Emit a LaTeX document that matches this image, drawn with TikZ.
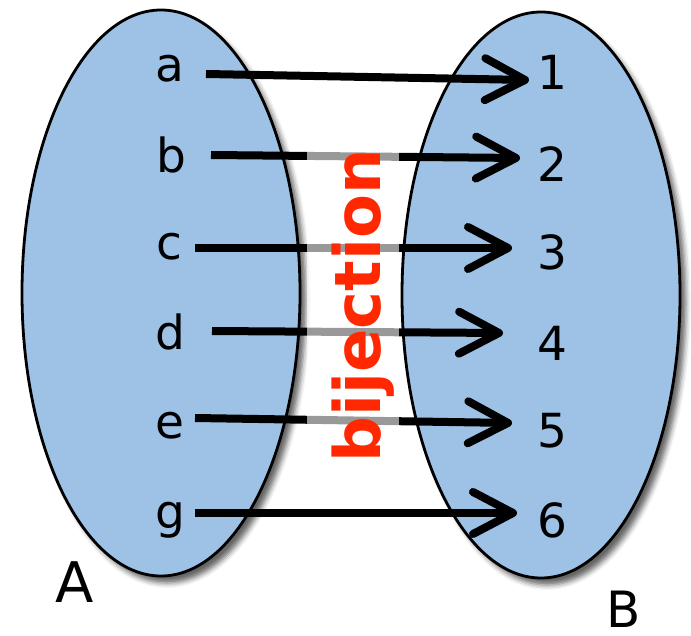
\documentclass[tikz,border=0pt]{standalone}
\usepackage{fontspec}
\setmainfont{DejaVu Sans}
\usetikzlibrary{arrows.meta,shapes.geometric,shadows.blur}

\definecolor{setblue}{RGB}{158,194,230}
\definecolor{bijred}{RGB}{255,40,0}

\tikzset{
  setshape/.style={ellipse, draw=black, line width=2.8pt, fill=setblue,
    minimum width=278pt, minimum height=566pt, inner sep=0pt,
    blur shadow={shadow xshift=6pt, shadow yshift=-7pt,
      shadow blur radius=5pt, shadow opacity=60}},
  elem/.style={anchor=base, inner sep=0pt, font=\fontsize{47}{47}\selectfont},
  mapto/.style={line width=8pt, -{Straight Barb[length=40pt,width=42pt,round]}},
}

\begin{document}
\begin{tikzpicture}[x=1pt,y=-1pt]
\useasboundingbox (0,0) rectangle (691,636);

% Sets
\node[setshape] (setA) at (161,293) {};
\node[setshape] (setB) at (541,295) {};

% Set names
\node[elem, font=\fontsize{56}{56}\selectfont] (nameA) at (75,602) {A};
\node[elem, font=\fontsize{50}{50}\selectfont] (nameB) at (624,627) {B};

% Elements of A
\foreach \n/\x/\y in {a/170/82, b/171/173, c/169/260, d/170/350, e/170/438, g/170/528}
  \node[elem] (\n) at (\x,\y) {\n};

% Elements of B
\foreach \n/\y in {1/90, 2/182, 3/270, 4/360, 5/447, 6/537}
  \node[elem] (n\n) at (552,\y) {\n};

% Mapping arrows
\foreach \s/\t/\sx/\sy/\tx/\ty in {a/1/36/-8/-23/-10, b/2/40/-18/-32/-24,
    c/3/26/-12/-40/-22, d/4/42/-19/-49/-27, e/5/25/-20/-40/-24, g/6/25/-15/-35/-24}
  \draw[mapto] ([shift={(\sx,\sy)}]\s.base) -- ([shift={(\tx,\ty)}]n\t.base);

% Veil behind the label
\fill[white, opacity=0.6] (307,140) rectangle (399,470);

% Label
\node[rotate=90, anchor=base, text=bijred,
  font=\fontsize{64}{64}\selectfont\bfseries] (bij) at (380,306) {bijection};

\end{tikzpicture}
\end{document}
